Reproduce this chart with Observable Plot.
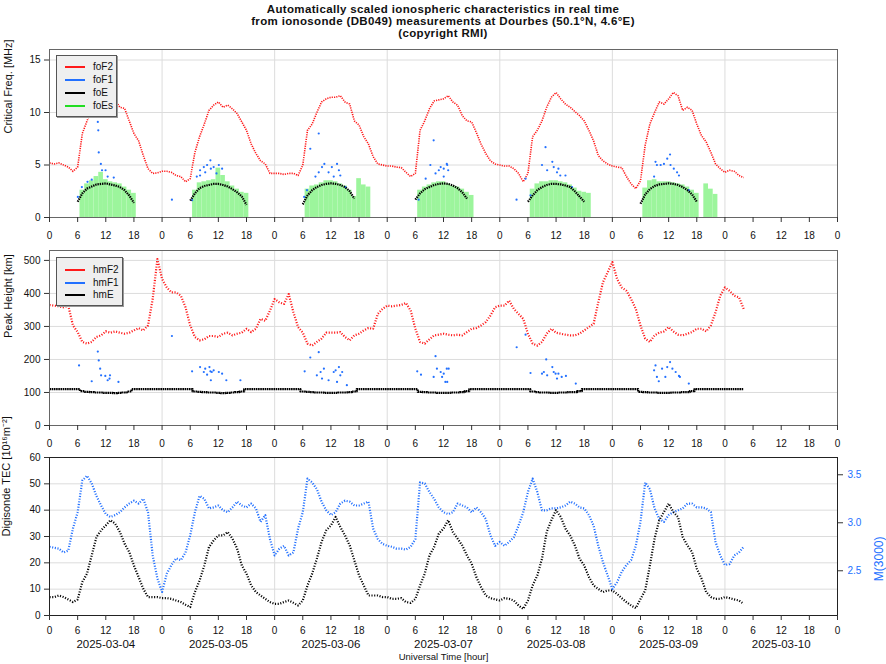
<!DOCTYPE html>
<html><head><meta charset="utf-8">
<script src="https://cdn.jsdelivr.net/npm/d3@7"></script>
<script src="https://cdn.jsdelivr.net/npm/@observablehq/plot@0.6"></script>
<style>
html,body{margin:0;padding:0;background:#fff;}
#wrap{position:relative;width:886px;height:664px;overflow:hidden;font-family:"Liberation Sans",Arial,Helvetica,sans-serif;color:#111;}
#title{position:absolute;left:0;top:3px;width:886px;text-align:center;font-weight:bold;font-size:11.5px;letter-spacing:0.35px;line-height:12px;}
.panel{position:absolute;left:0;}
.legend{position:absolute;box-sizing:border-box;background:#efefef;border:1px solid #555;box-shadow:1px 1px 0 #999;font-size:10px;}
.legend .row{position:absolute;left:0;height:13px;width:100%;}
.legend .sw{position:absolute;left:8px;width:20px;height:2px;top:5.5px;}
.legend .lab{position:absolute;left:36px;top:0;line-height:13px;}
</style></head>
<body>
<div id="wrap">
  <div id="title">Automatically scaled ionospheric characteristics in real time<br>from ionosonde (DB049) measurements at Dourbes (50.1°N, 4.6°E)<br>(copyright RMI)</div>
  <div id="p1" class="panel" style="top:44px"></div>
  <div id="p2" class="panel" style="top:245px"></div>
  <div id="p3" class="panel" style="top:452px"></div>
  <div id="leg1" class="legend" style="left:56px;top:55px;width:61px;height:62px"></div>
  <div id="leg2" class="legend" style="left:56px;top:257px;width:67px;height:49px"></div>
</div>
<script>
// ---------- axis / label data ----------
const hourTicks = [0,6,12,18,24,30,36,42,48,54,60,66,72,78,84,90,96,102,108,114,120,126,132,138,144,150,156,162,168];
const dayLines = [24,48,72,96,120,144];
const dateLabels = ["2025-03-04","2025-03-05","2025-03-06","2025-03-07","2025-03-08","2025-03-09","2025-03-10"];
const dateNoon = [12,36,60,84,108,132,156];
const freqTicks = [0,5,10,15];
const heightTicks = [0,100,200,300,400,500];
const tecTicks = [0,10,20,30,40,50,60];
const mTicks = [2.5,3.0,3.5];
const mDomain = [2.034,3.68];

// ---------- panel 1: hourly values (index = hours since 2025-03-04 00 UT) ----------
const foF2 = [
 5.2,5.1,5.2,5.0,4.8,4.4,4.8,8.0,9.2,10.3,10.8,11.0,11.2,11.3,11.2,10.5,10.4,9.2,8.0,7.3,5.9,4.65,4.2,4.25,
 4.4,4.4,4.3,4.0,3.9,3.4,3.7,6.2,7.7,8.9,10.2,10.7,11.0,10.5,10.7,10.35,9.9,9.1,8.3,7.0,6.1,5.4,5.1,4.2,
 4.2,4.2,4.1,4.2,4.2,4.0,5.0,8.3,8.9,10.0,11.0,11.3,11.45,11.45,11.6,11.0,10.8,9.2,8.8,7.7,7.0,5.8,5.1,5.0,
 4.9,4.9,4.8,4.75,4.3,3.9,4.2,8.3,9.2,10.35,11.1,11.2,11.3,11.6,11.0,10.7,9.7,9.2,9.1,8.1,7.0,6.1,5.4,5.1,
 5.0,4.9,4.9,4.65,4.2,3.4,4.2,7.7,8.3,9.2,10.5,11.45,11.9,11.3,10.8,10.5,10.1,9.7,9.2,8.3,7.3,5.9,5.4,5.1,
 4.9,4.8,4.75,3.9,3.2,2.75,3.5,6.9,8.9,10.0,11.0,10.8,11.3,11.9,11.6,10.2,10.5,10.2,8.9,7.8,7.2,6.2,5.1,4.65,
 4.3,4.5,4.4,4.0,3.8];

// foE daytime values at hours 6..18 of each day
const foEHours = [6,7,8,9,10,11,12,13,14,15,16,17,18];
const foE_0304 = [1.5,2.3,2.75,2.95,3.15,3.2,3.25,3.15,3.05,2.9,2.6,2.1,1.4];
const foE_0305 = [1.6,2.3,2.8,3.0,3.1,3.2,3.2,3.1,2.95,2.7,2.4,2.0,1.2];
const foE_0306 = [1.25,2.1,2.6,2.9,3.1,3.2,3.25,3.2,3.1,2.9,2.5,1.8,null];
const foE_0307 = [1.7,2.3,2.7,2.9,3.1,3.2,3.25,3.2,3.05,2.8,2.4,1.8,null];
const foE_0308 = [1.5,2.1,2.6,2.9,3.1,3.2,3.2,3.15,3.05,2.9,2.5,2.0,1.5];
const foE_0309 = [1.3,2.2,2.7,3.0,3.15,3.2,3.25,3.2,3.1,2.9,2.6,2.2,1.5];

// foEs values at hours 7..23 of each day
const foEsHours = [7,8,9,10,11,12,13,14,15,16,17,18,19,20,21,22,23];
const foEs_0304 = [2.6,3.2,3.5,3.9,4.3,3.6,3.4,3.3,3.2,2.9,2.6,2.3,null,null,null,null,null];
const foEs_0305 = [2.6,3.3,3.4,3.5,3.6,4.7,4.0,3.4,3.0,2.7,2.4,2.3,null,null,null,null,null];
const foEs_0306 = [2.7,3.0,3.1,3.3,3.5,3.5,3.4,3.2,3.0,2.6,2.0,3.7,3.1,2.9,null,null,null];
const foEs_0307 = [2.6,2.9,3.1,3.3,3.4,3.4,3.2,3.0,2.9,2.7,2.4,2.1,null,null,null,null,null];
const foEs_0308 = [2.7,3.2,3.4,3.4,3.5,3.5,3.4,3.3,3.1,2.8,2.5,2.4,2.3,null,null,null,null];
const foEs_0309 = [2.8,3.5,3.6,3.4,3.4,3.4,3.3,3.2,3.1,2.9,2.6,2.3,null,3.2,2.7,2.2,null];

// foF1 scattered points
const foF1Hours = [6.05,6.9,8.1,9.0,10.3,10.4,10.5,10.95,11.2,11.95,12.4,13.7,
 26.1,30.4,31.4,32.1,32.1,32.9,33.2,33.6,34.3,34.4,35.0,35.6,36.1,36.8,
 54.3,54.9,55.6,56.7,57.4,57.4,58.1,58.6,59.5,60.2,60.6,61.3,61.7,62.0,63.1,
 78.7,80.2,81.2,81.9,82.3,83.0,83.4,84.05,84.05,84.7,84.8,85.0,
 99.57,101.5,102.55,105.0,105.75,106.1,107.2,107.5,108.2,108.5,108.9,110.0,111.4,
 128.9,129.2,129.5,130.3,131.0,131.7,132.3,132.4,133.1,133.8,134.2,136.3];
const foF1Values = [1.96,2.9,3.4,3.6,9.1,8.3,6.2,5.1,4.5,4.5,3.9,3.8,
 1.7,1.65,3.9,4.5,4.0,4.8,4.3,5.0,5.45,4.65,4.8,4.2,5.0,4.65,
 1.96,2.6,6.55,3.9,8.0,4.3,4.8,5.1,4.3,4.8,3.9,5.1,4.5,4.0,2.9,
 1.7,3.7,5.0,7.35,4.2,4.5,4.8,4.65,3.9,5.1,5.0,4.5,
 1.7,3.7,2.1,5.0,6.7,4.5,5.3,4.8,4.3,4.65,4.0,4.0,2.9,
 3.9,5.3,5.0,5.0,5.1,5.6,6.0,5.0,4.65,4.3,4.0,2.6];

// ---------- panel 2 ----------
const hmF2 = [
 365,363,361,358,363,303,283,253,248,253,268,273,285,281,285,281,278,281,288,295,288,303,383,504,
 444,418,403,403,393,358,303,268,258,261,271,271,268,278,281,273,278,281,293,283,293,323,317,348,
 383,373,368,398,343,298,281,248,242,253,263,281,281,281,283,268,258,273,278,288,295,293,338,353,
 363,361,363,365,371,348,293,253,248,261,273,275,278,275,273,275,273,283,293,295,303,313,333,358,
 363,363,378,353,338,323,278,248,242,253,278,293,281,278,275,273,273,278,288,298,308,373,434,464,
 495,444,418,408,383,353,303,263,253,273,281,285,298,285,275,273,278,283,293,293,285,303,343,393,
 418,408,393,388,353];
const hmE = [
 110,110,110,110,110,110,110,104,102,101,100,100,99,99,98,99,100,103,110,110,110,110,110,110,
 110,110,110,110,110,110,110,103,102,101,100,100,99,98,99,100,101,103,110,110,110,110,110,110,
 110,110,110,110,110,110,103,102,101,100,100,99,99,99,100,100,101,103,110,110,110,110,110,110,
 110,110,110,110,110,110,110,102,101,100,100,99,99,99,100,100,101,104,110,110,110,110,110,110,
 110,110,110,110,110,110,110,103,101,100,100,99,99,100,100,101,101,104,110,110,110,110,110,110,
 110,110,110,110,110,110,102,101,100,100,99,99,99,100,100,101,101,104,110,110,110,110,110,110,
 110,110,110,110,110];
const hmF1Hours = [6.3,9.0,10.3,10.5,10.8,11.0,11.9,12.4,12.8,12.9,14.7,
 26.1,30.4,32.1,32.9,33.2,33.6,34.1,34.3,34.6,35.0,34.4,36.1,36.8,37.7,40.7,
 54.4,55.6,57.4,57.0,57.8,58.5,58.1,59.5,60.6,61.0,61.7,62.0,62.4,63.4,61.3,
 78.4,79.2,81.9,82.3,82.6,83.4,83.7,85.1,84.8,84.05,84.7,84.4,
 99.6,101.5,102.55,105.0,105.4,105.9,106.1,107.2,107.5,107.9,108.2,108.5,109.2,110.1,112.2,
 128.9,129.2,129.5,129.9,130.6,131.3,131.7,132.3,132.8,133.5,134.2,134.4,136.3];
const hmF1Values = [182,134,224,197,172,152,150,137,142,152,132,
 271,164,177,162,172,154,177,164,162,167,137,162,157,137,137,
 164,206,222,152,162,172,142,137,162,167,177,152,162,122,132,
 164,154,147,210,172,162,147,172,132,157,172,132,
 237,275,159,157,162,200,152,177,162,157,142,157,147,150,127,
 167,182,147,134,172,147,177,192,172,162,150,147,127];

// ---------- panel 3 ----------
const tec = [
 7.0,7.0,7.6,7.0,6.1,5.1,6.1,12.7,15.9,22.8,29.8,32.3,34.2,36.2,34.9,31.7,27.3,24.1,19.0,14.6,10.1,7.0,7.0,7.0,
 6.6,6.6,6.3,5.7,5.1,4.1,3.2,8.9,13.3,19.0,26.0,28.5,30.4,30.4,31.7,29.2,25.4,19.0,15.9,11.4,8.9,7.6,6.3,5.1,
 4.4,4.4,5.1,5.7,4.8,3.8,5.7,11.4,15.9,21.6,27.9,32.3,34.2,37.4,33.6,30.4,26.6,20.9,15.2,11.4,7.6,7.6,7.6,7.0,
 7.0,6.3,6.3,6.6,5.1,4.8,6.3,11.4,15.9,22.8,26.0,31.1,33.0,36.2,31.7,29.2,26.6,22.8,19.7,14.6,10.8,7.6,6.6,6.1,
 5.7,6.6,6.3,5.7,3.8,2.5,5.7,11.4,15.2,21.6,31.7,36.2,40.0,37.4,33.0,30.4,26.6,21.6,19.0,14.6,11.4,10.1,8.9,9.5,
 9.5,8.2,6.6,5.1,3.8,2.8,6.3,9.5,19.0,29.2,36.2,39.3,42.5,39.3,37.4,29.8,26.6,24.1,17.8,14.0,8.9,7.0,6.3,6.3,
 7.0,6.6,6.1,5.7,4.4];
const m3000 = [
 2.75,2.74,2.73,2.69,2.71,2.94,3.11,3.44,3.49,3.41,3.28,3.18,3.09,3.06,3.08,3.11,3.16,3.20,3.23,3.20,3.25,3.11,2.66,2.42,
 2.28,2.47,2.56,2.63,2.61,2.69,2.87,3.11,3.28,3.25,3.15,3.16,3.18,3.13,3.11,3.16,3.22,3.18,3.16,3.20,3.15,3.01,3.08,2.83,
 2.66,2.73,2.76,2.66,2.69,2.94,3.11,3.46,3.42,3.35,3.22,3.13,3.08,3.11,3.20,3.23,3.22,3.18,3.18,3.20,3.22,2.94,2.83,2.78,
 2.76,2.75,2.73,2.73,2.72,2.75,2.83,3.42,3.41,3.32,3.25,3.16,3.11,3.09,3.11,3.20,3.18,3.16,3.11,3.16,3.11,3.04,2.87,2.76,
 2.80,2.76,2.80,2.85,2.97,3.11,3.32,3.46,3.32,3.13,3.13,3.15,3.15,3.16,3.18,3.22,3.20,3.16,3.15,3.08,2.97,2.76,2.59,2.45,
 2.31,2.38,2.49,2.56,2.61,2.76,3.01,3.42,3.35,3.15,3.04,3.01,3.08,3.11,3.13,3.15,3.20,3.20,3.16,3.16,3.15,3.11,2.80,2.66,
 2.56,2.57,2.66,2.69,2.75];

// ---------- colours ----------
const RED = "#ff1a1a", BLUE = "#2270ff", BLACK = "#000000", GREEN = "#22dd22", GREENFILL = "#9cf59c";

// ---------- helpers ----------
const hourly = arr => arr.map((v, i) => ({h: i, v}));
const byDay = (days, hours) => days.flatMap((arr, d) => arr.map((v, j) => ({h: d * 24 + hours[j], v, day: d})));
const pts = (hs, vs) => hs.map((h, i) => ({h, v: vs[i]}));
const m2y = m => (m - mDomain[0]) / (mDomain[1] - mDomain[0]) * 60;
const y2m = y => mDomain[0] + y / 60 * (mDomain[1] - mDomain[0]);

const style = {fontFamily: '"Liberation Sans", Arial, Helvetica, sans-serif', fontSize: "10px", color: "#111", background: "transparent", overflow: "visible"};
const base = (h, mb) => ({width: 886, height: h, marginTop: 5, marginBottom: mb, marginLeft: 49, marginRight: 49,
  x: {domain: [0, 168], label: null}, style});
const xAxis = (pad = 9) => Plot.axisX(hourTicks, {tickFormat: d => String(d % 24), tickSize: 5, tickPadding: pad, label: null, stroke: "#333", fill: "#111"});
const yAxis = (t) => Plot.axisY(t, {tickSize: 5, tickPadding: 4, label: null, stroke: "#333", fill: "#111"});
const yLabel = (txt, dx) => Plot.text([txt], {frameAnchor: "left", dx, rotate: -90, fontSize: 11, fill: "#111"});
const dotted = {strokeWidth: 1.6, strokeDasharray: "1.2,1.1", strokeLinecap: "butt"};
const cloud = {strokeWidth: 2.2, strokeDasharray: "1.1,1.6", strokeLinecap: "butt"};

// ---------- panel 1 ----------
const foEsRows = byDay([foEs_0304, foEs_0305, foEs_0306, foEs_0307, foEs_0308, foEs_0309], foEsHours)
  .filter(d => d.v != null).map(d => ({x1: d.h - 0.5, x2: d.h + 0.5, v: d.v}));
const foERows = byDay([foE_0304, foE_0305, foE_0306, foE_0307, foE_0308, foE_0309], foEHours);

const p1 = Plot.plot({...base(206, 33), y: {domain: [0, 16], label: null},
  marks: [
    Plot.gridY([5, 10, 15], {stroke: "#dcdcdc", strokeOpacity: 1}),
    Plot.gridX(dayLines, {stroke: "#dcdcdc", strokeOpacity: 1}),
    Plot.rectY(foEsRows, {x1: "x1", x2: "x2", y: "v", fill: GREENFILL}),
    Plot.line(hourly(foF2), {x: "h", y: "v", stroke: RED, ...dotted}),
    Plot.dot(pts(foF1Hours, foF1Values), {x: "h", y: "v", r: 1.1, fill: BLUE, stroke: null}),
    Plot.line(foERows, {x: "h", y: "v", z: "day", stroke: BLACK, strokeWidth: 2.2, strokeDasharray: "1.4,0.9", strokeLinecap: "butt"}),
    Plot.frame({stroke: "#666"}),
    xAxis(), yAxis(freqTicks),
    yLabel("Critical Freq. [MHz]", -41)
  ]});
document.getElementById("p1").append(p1);

// ---------- panel 2 ----------
const p2 = Plot.plot({...base(213, 33), y: {domain: [0, 530], label: null},
  marks: [
    Plot.gridY([100, 200, 300, 400, 500], {stroke: "#dcdcdc", strokeOpacity: 1}),
    Plot.gridX(dayLines, {stroke: "#dcdcdc", strokeOpacity: 1}),
    Plot.line(hourly(hmF2), {x: "h", y: "v", stroke: RED, ...cloud}),
    Plot.dot(pts(hmF1Hours, hmF1Values), {x: "h", y: "v", r: 1.1, fill: BLUE, stroke: null}),
    Plot.line(hourly(hmE), {x: "h", y: "v", stroke: BLACK, strokeWidth: 2.2, strokeDasharray: "1.6,0.6", strokeLinecap: "butt", curve: "step"}),
    Plot.frame({stroke: "#666"}),
    xAxis(), yAxis(heightTicks),
    yLabel("Peak Height [km]", -41)
  ]});
document.getElementById("p2").append(p2);

// ---------- panel 3 ----------
const p3 = Plot.plot({...base(212, 49), y: {domain: [0, 60], label: null},
  marks: [
    Plot.gridY([10, 20, 30, 40, 50], {stroke: "#dcdcdc", strokeOpacity: 1}),
    Plot.gridX(dayLines, {stroke: "#dcdcdc", strokeOpacity: 1}),
    Plot.line(hourly(m3000), {x: "h", y: d => m2y(d.v), stroke: BLUE, ...cloud}),
    Plot.line(hourly(tec), {x: "h", y: "v", stroke: BLACK, ...cloud}),
    Plot.frame({stroke: "#222"}),
    xAxis(6), yAxis(tecTicks),
    Plot.axisY(mTicks.map(m2y), {anchor: "right", tickSize: 5, tickPadding: 5, label: null, stroke: "#333", fill: BLUE,
      tickFormat: d => y2m(d).toFixed(1)}),
    Plot.text(dateLabels, {x: (d, i) => dateNoon[i], text: d => d, frameAnchor: "bottom", dy: 32, fontSize: 11.5, fill: "#111"}),
    Plot.text(["Universal Time [hour]"], {frameAnchor: "bottom", dy: 44, fontSize: 9.5, fill: "#111"}),
    yLabel("Digisonde TEC [10\u00B9\u2076m\u207B\u00B2]", -43),
    Plot.text(["M(3000)"], {frameAnchor: "right", dx: 42, rotate: -90, fontSize: 12, fill: BLUE})
  ]});
document.getElementById("p3").append(p3);

// ---------- legends ----------
function legend(el, items, tops) {
  items.forEach(([name, col], i) => {
    const row = document.createElement("div");
    row.className = "row"; row.style.top = tops[i] + "px";
    row.innerHTML = `<div class="sw" style="background:${col}"></div><div class="lab">${name}</div>`;
    el.append(row);
  });
}
legend(document.getElementById("leg1"), [["foF2", RED], ["foF1", BLUE], ["foE", BLACK], ["foEs", GREEN]], [4, 17, 30, 43]);
legend(document.getElementById("leg2"), [["hmF2", RED], ["hmF1", BLUE], ["hmE", BLACK]], [5, 18, 30]);
</script>
</body></html>
